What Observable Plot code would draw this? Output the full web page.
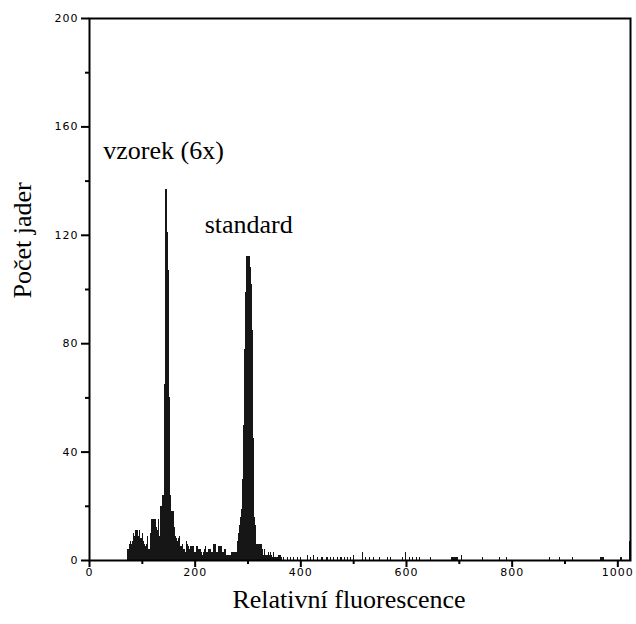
<!DOCTYPE html>
<html><head><meta charset="utf-8">
<script src="https://cdn.jsdelivr.net/npm/d3@7"></script>
<script src="https://cdn.jsdelivr.net/npm/@observablehq/plot@0.6"></script>
<style>
body{margin:0;background:#fff}
.ticks text{letter-spacing:1px}
</style>
</head><body><div id="chart"></div>
<script>
// histogram: 2-channel bins
const binWidth = 2;
const denseStart = 72;
const denseCounts = [
  4,4,6,7,6,7,10,9,11,11,9,11,8,8,10,7,6,5,6,9,4,4,10,15,15,15,15,12,11,15,9,20,20,24,24,
  65,137,137,121,107,60,24,18,18,12,9,8,7,8,9,5,5,6,4,4,3,7,6,5,4,5,5,5,3,3,5,5,4,4,4,
  3,2,3,4,5,3,3,4,4,3,3,6,6,6,3,3,5,5,5,5,3,3,4,4,2,2,2,2,3,3,3,3,3,3,
  7,10,13,16,19,30,50,78,99,112,112,112,108,102,85,45,16,13,6,6,6,6,6,6,4,
  2,4,2,2,3,2,3,2,1,3,1,1,1,1,2,2,2,1
];
const tailChannels = [368,374,380,386,394,400,412,418,424,432,440,448,450,456,462,470,476,482,488,494,500,516,522,530,538,548,564,570,592,598,606,612,618,624,646,686,688,690,692,694,696,704,744,776,790,870,890,914,968,970,972,1006,1022];
const tailCounts   = [1,1,1,1,1,1,2,1,2,1,1,1,1,1,1,1,1,1,1,1,2,3,1,1,1,1,1,1,1,3,1,1,1,1,1,1,1,1,1,1,1,2,1,1,1,1,1,1,1,1,1,1,7];

const xTicks = [0,200,400,600,800,1000];
const xMinorTicks = [100,300,500,700,900];
const yTicks = [0,40,80,120,160,200];
const yMinorTicks = [20,60,100,140,180];
const xTitle = "Relativní fluorescence";
const yTitle = "Počet jader";
const peakLabels = ["vzorek (6x)", "standard"];
const peakLabelX = [26, 218];
const peakLabelY = [148, 121];

const bins = denseCounts.map((n, i) => ({c: denseStart + i * binWidth, n}))
  .concat(tailChannels.map((c, i) => ({c, n: tailCounts[i]})));
const labels = peakLabels.map((t, i) => ({t, x: peakLabelX[i], y: peakLabelY[i]}));

const serif = "'Liberation Serif', 'Times New Roman', serif";

const chart = Plot.plot({
  width: 636,
  height: 624,
  marginLeft: 89,
  marginRight: 6,
  marginTop: 18,
  marginBottom: 64,
  style: {fontFamily: "'DejaVu Sans', sans-serif", fontSize: "11px", color: "#000", background: "#fff"},
  x: {domain: [0, 1024]},
  y: {domain: [0, 200]},
  marks: [
    Plot.rectY(bins, {x1: "c", x2: d => d.c + binWidth, y: "n", fill: "#161616", shapeRendering: "crispEdges"}),
    Plot.frame({stroke: "#000", strokeWidth: 2}),
    Plot.axisX(xTicks, {tickSize: 7, tickPadding: 1, strokeWidth: 2, label: null, tickFormat: d => String(d), className: "ticks"}),
    Plot.axisX(xMinorTicks, {tickSize: 4, strokeWidth: 2, text: null, label: null}),
    Plot.axisY(yTicks, {tickSize: 8, tickPadding: 3, strokeWidth: 2, label: null, tickFormat: d => String(d), className: "ticks"}),
    Plot.axisY(yMinorTicks, {tickSize: 4, strokeWidth: 2, text: null, label: null}),
    Plot.text(labels, {x: "x", y: "y", text: "t", textAnchor: "start", lineAnchor: "bottom", fontSize: 26, fontFamily: serif, fill: "#000"}),
    Plot.text([xTitle], {frameAnchor: "bottom", dx: -11, dy: 47, fontSize: 26, fontFamily: serif, fill: "#000"}),
    Plot.text([yTitle], {frameAnchor: "left", rotate: -90, dx: -67, dy: 9, fontSize: 26, fontFamily: serif, fill: "#000"})
  ]
});
document.getElementById("chart").appendChild(chart);
</script>
</body></html>
